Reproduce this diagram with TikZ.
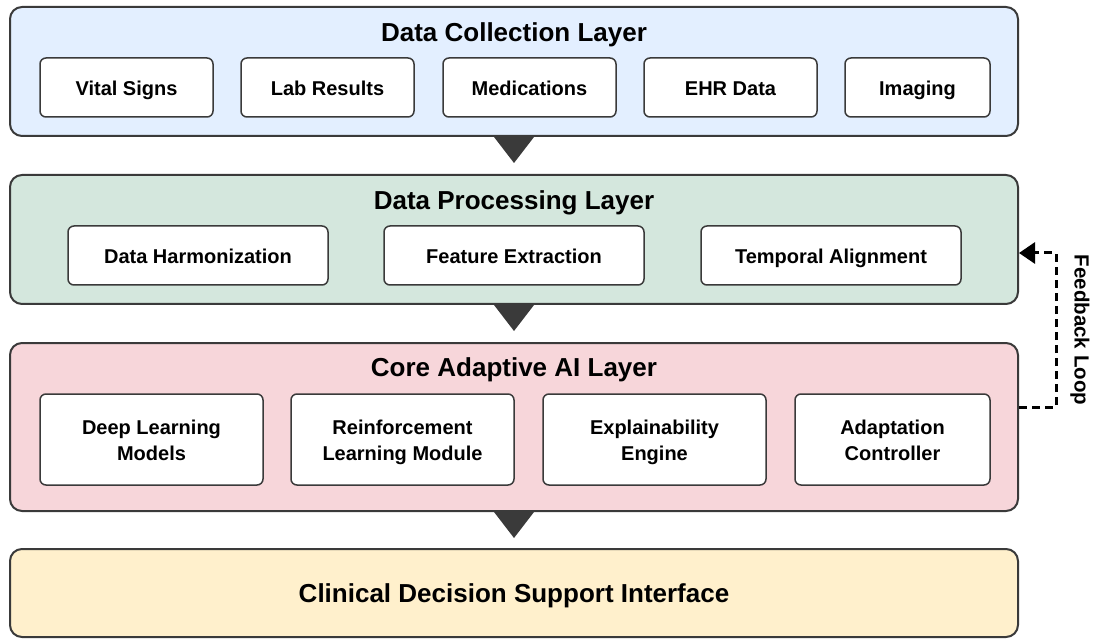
\documentclass[tikz,border=0pt]{standalone}
\usepackage{fontspec}
\setmainfont{Liberation Sans}
\usetikzlibrary{
  positioning,
  arrows.meta,
  calc
}
\definecolor{collect}{HTML}{E3EFFF}
\definecolor{process}{HTML}{D4E7DD}
\definecolor{adaptive}{HTML}{F7D6DA}
\definecolor{support}{HTML}{FFF0CC}
\definecolor{edge}{HTML}{3A3A3A}
\newcommand{\itemstrut}{\rule[-4.7pt]{0pt}{25.7pt}}

\begin{document}
\begin{tikzpicture}[
  x=1pt, y=-1pt,
  layer/.style={draw=edge, line width=2pt, rounded corners=12pt, minimum width=1008pt},
  ltitle/.style={anchor=base, font=\fontsize{26}{30}\selectfont\bfseries},
  item/.style={draw=edge, line width=1.5pt, rounded corners=6pt, fill=white,
               minimum height=59pt, align=center, font=\fontsize{20}{26}\selectfont\bfseries,
               execute at begin node=\itemstrut, execute at end node=\itemstrut},
  tallitem/.style={item, minimum height=91pt, text height=46.3pt, text depth=5pt},
  tri/.style={fill=edge, draw=none},
  fb/.style={dash pattern=on 8pt off 5pt, line width=3pt,
             -{Triangle[length=16pt, width=21pt, sep=0pt]}}
]
  \useasboundingbox (0,0) rectangle (1093,639);

  % Layers
  \node[layer, fill=collect, minimum height=129pt] (dc) at (514, 71.5) {};
  \node[layer, fill=process, minimum height=129pt] (dp) at (514, 239.5) {};
  \node[layer, fill=adaptive, minimum height=168pt] (ai) at (514, 427) {};
  \node[layer, fill=support, minimum height=88pt] (cds) at (514, 593) {};

  % Titles
  \node[ltitle] (dctitle) at (514, 41.5) {Data Collection Layer};
  \node[ltitle] (dptitle) at (514, 209.5) {Data Processing Layer};
  \node[ltitle] (aititle) at (514, 376.5) {Core Adaptive AI Layer};
  \node[ltitle] (cdstitle) at (514, 602.5) {Clinical Decision Support Interface};

  % Data collection
  \node[item, minimum width=173pt] (vital) at (126.5, 87.5) {Vital Signs};
  \node[item, minimum width=173pt] (lab) at (327.5, 87.5) {Lab Results};
  \node[item, minimum width=173pt] (meds) at (529.5, 87.5) {Medications};
  \node[item, minimum width=173pt] (ehr) at (730.5, 87.5) {EHR Data};
  \node[item, minimum width=145pt] (img) at (917.5, 87.5) {Imaging};

  % Data processing
  \node[item, minimum width=260pt] (harm) at (198, 255.5) {Data Harmonization};
  \node[item, minimum width=260pt] (feat) at (514, 255.5) {Feature Extraction};
  \node[item, minimum width=260pt] (temp) at (831, 255.5) {Temporal Alignment};

  % Core adaptive AI
  \node[tallitem, minimum width=223pt] (dl) at (151.5, 439.5) {Deep Learning\\Models};
  \node[tallitem, minimum width=223pt] (rl) at (402.5, 439.5) {Reinforcement\\Learning Module};
  \node[tallitem, minimum width=223pt] (xai) at (654.5, 439.5) {Explainability\\Engine};
  \node[tallitem, minimum width=195pt] (adapt) at (892.5, 439.5) {Adaptation\\Controller};

  % Flow between layers
  \fill[tri] ($(dc.south)+(-20,0)$) -- ($(dc.south)+(20,0)$) -- ($(dc.south)+(0,26)$) -- cycle;
  \fill[tri] ($(dp.south)+(-20,0)$) -- ($(dp.south)+(20,0)$) -- ($(dp.south)+(0,26)$) -- cycle;
  \fill[tri] ($(ai.south)+(-20,0)$) -- ($(ai.south)+(20,0)$) -- ($(ai.south)+(0,26)$) -- cycle;

  % Feedback loop
  \coordinate (fbout) at ($(ai.east)+(0,-20)$);
  \coordinate (fbin) at ($(dp.east)+(0,13.5)$);
  \draw[fb] (fbout) -- ++(37,0) |- (fbin);
  \node[rotate=-90, font=\fontsize{20.5}{24}\selectfont\bfseries] (fblabel) at (1080, 330) {Feedback Loop};
\end{tikzpicture}
\end{document}
